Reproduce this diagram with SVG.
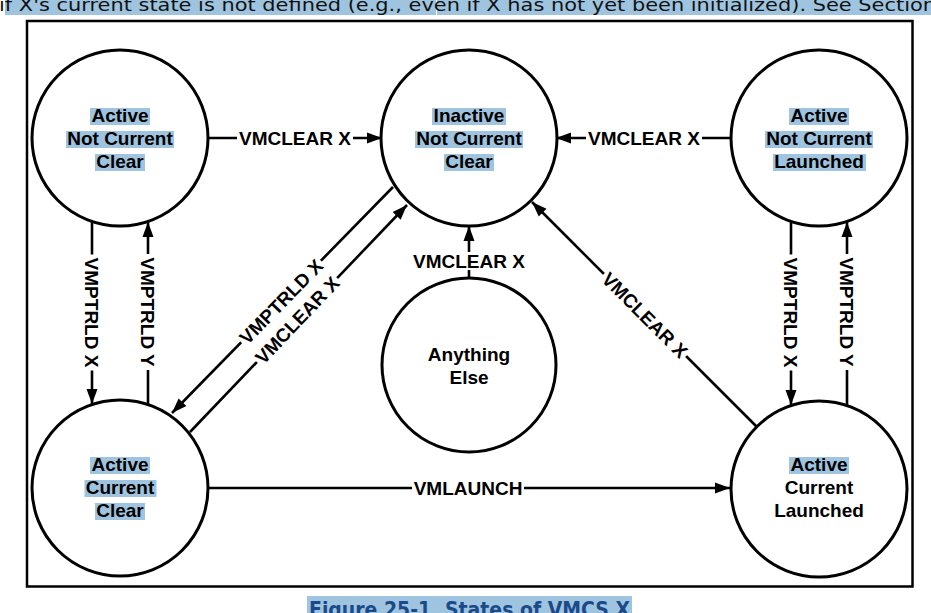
<svg xmlns="http://www.w3.org/2000/svg" width="931" height="613" viewBox="0 0 931 613">
<style>
.node circle{fill:#fff;stroke:#000;stroke-width:3}
.t{font-family:"Liberation Sans",Arial,sans-serif;font-weight:bold;font-size:19px;fill:#000;text-anchor:middle}
.hl{fill:#9fc4df}
.edge{stroke:#000;stroke-width:2.6;fill:none}
.arr{marker-end:url(#ah)}
.bg{fill:#fff}
</style>
<defs>
<marker id="ah" markerUnits="userSpaceOnUse" markerWidth="16" markerHeight="12" refX="15" refY="6" orient="auto">
<path d="M0,0.5 L15,6 L0,11.5 Z" fill="#000"/>
</marker>
</defs>
<rect width="931" height="613" fill="#fff"/>
<!-- page text above -->
<rect class="hl" x="5" y="0" width="926" height="15"/>
<rect x="436" y="0" width="1" height="15" fill="#fff"/>
<text x="-1" y="10.5" font-family="'DejaVu Sans',Verdana,sans-serif" font-size="18" fill="#111" textLength="937" lengthAdjust="spacingAndGlyphs">if X's current state is not defined (e.g., even if X has not yet been initialized). See Section</text>
<!-- frame -->
<rect x="27" y="21" width="885.5" height="565.5" fill="none" stroke="#000" stroke-width="2.5"/>

<g id="edges">
<!-- TL -> TM -->
<line class="edge arr" x1="208" y1="138" x2="382" y2="138"/>
<rect class="bg" x="237" y="129" width="116" height="19"/>
<text class="t" x="295" y="145">VMCLEAR X</text>
<!-- TR -> TM -->
<line class="edge arr" x1="731" y1="138" x2="556" y2="138"/>
<rect class="bg" x="586" y="129" width="116" height="19"/>
<text class="t" x="644" y="145">VMCLEAR X</text>
<!-- TL -> BL VMPTRLD X -->
<line class="edge arr" x1="92" y1="222" x2="92" y2="404"/>
<g transform="translate(92,312.5) rotate(90)">
<rect class="bg" x="-58" y="-9" width="116" height="18"/>
<text class="t" x="0" y="7">VMPTRLD X</text>
</g>
<!-- BL -> TL VMPTRLD Y -->
<line class="edge arr" x1="148" y1="404" x2="148" y2="222"/>
<g transform="translate(148,312) rotate(90)">
<rect class="bg" x="-58" y="-9" width="116" height="18"/>
<text class="t" x="0" y="7">VMPTRLD Y</text>
</g>
<!-- TR -> BR VMPTRLD X -->
<line class="edge arr" x1="791" y1="222" x2="791" y2="405"/>
<g transform="translate(791,312.5) rotate(90)">
<rect class="bg" x="-58" y="-9" width="116" height="18"/>
<text class="t" x="0" y="7">VMPTRLD X</text>
</g>
<!-- BR -> TR VMPTRLD Y -->
<line class="edge arr" x1="847" y1="405" x2="847" y2="222"/>
<g transform="translate(847,312) rotate(90)">
<rect class="bg" x="-58" y="-9" width="116" height="18"/>
<text class="t" x="0" y="7">VMPTRLD Y</text>
</g>
<!-- Anything -> TM -->
<line class="edge arr" x1="469" y1="278" x2="469" y2="226"/>
<rect class="bg" x="411" y="252" width="116" height="18"/>
<text class="t" x="469" y="268">VMCLEAR X</text>
<!-- BL -> BR VMLAUNCH -->
<line class="edge arr" x1="208" y1="488" x2="730" y2="488"/>
<rect class="bg" x="412" y="479" width="112" height="18"/>
<text class="t" x="468" y="495">VMLAUNCH</text>
<!-- TM -> BL VMPTRLD X -->
<line class="edge arr" x1="393" y1="187" x2="172" y2="413"/>
<g transform="translate(281,301.5) rotate(-45.6)">
<rect class="bg" x="-57" y="-8" width="114" height="16"/>
<text class="t" x="0" y="7">VMPTRLD X</text>
</g>
<!-- BL -> TM VMCLEAR X -->
<line class="edge arr" x1="190" y1="432" x2="407" y2="205"/>
<g transform="translate(297,320) rotate(-46.3)">
<rect class="bg" x="-58" y="-8" width="116" height="16"/>
<text class="t" x="0" y="7">VMCLEAR X</text>
</g>
<!-- BR -> TM VMCLEAR X -->
<line class="edge arr" x1="757" y1="427" x2="532" y2="202"/>
<g transform="translate(645,315) rotate(45)">
<rect class="bg" x="-58" y="-9" width="116" height="18"/>
<text class="t" x="0" y="7">VMCLEAR X</text>
</g>
</g>

<g id="node-tl" class="node">
<circle cx="120" cy="138" r="88"/>
<rect class="hl" x="90" y="108" width="60" height="17"/>
<rect class="hl" x="66" y="131" width="108" height="17"/>
<rect class="hl" x="95" y="154" width="50" height="17"/>
<text class="t" x="120" y="122">Active</text>
<text class="t" x="120" y="145">Not Current</text>
<text class="t" x="120" y="168">Clear</text>
</g>
<g id="node-tm" class="node">
<circle cx="469" cy="138" r="88"/>
<rect class="hl" x="432" y="108" width="74" height="17"/>
<rect class="hl" x="415" y="131" width="108" height="17"/>
<rect class="hl" x="444" y="154" width="50" height="17"/>
<text class="t" x="469" y="122">Inactive</text>
<text class="t" x="469" y="145">Not Current</text>
<text class="t" x="469" y="168">Clear</text>
</g>
<g id="node-tr" class="node">
<circle cx="819" cy="138" r="88"/>
<rect class="hl" x="789" y="108" width="60" height="17"/>
<rect class="hl" x="765" y="131" width="108" height="17"/>
<rect class="hl" x="773" y="154" width="93" height="17"/>
<text class="t" x="819" y="122">Active</text>
<text class="t" x="819" y="145">Not Current</text>
<text class="t" x="819" y="168">Launched</text>
</g>
<g id="node-anything" class="node">
<circle cx="469" cy="365" r="87"/>
<text class="t" x="469" y="361">Anything</text>
<text class="t" x="469" y="384">Else</text>
</g>
<g id="node-bl" class="node">
<circle cx="120" cy="488" r="88"/>
<rect class="hl" x="90" y="457" width="60" height="17"/>
<rect class="hl" x="84.5" y="480" width="72" height="17"/>
<rect class="hl" x="95" y="503" width="50" height="17"/>
<text class="t" x="120" y="471">Active</text>
<text class="t" x="120" y="494">Current</text>
<text class="t" x="120" y="517">Clear</text>
</g>
<g id="node-br" class="node">
<circle cx="819" cy="489" r="88"/>
<rect class="hl" x="789" y="457" width="60" height="17"/>
<text class="t" x="819" y="471">Active</text>
<text class="t" x="819" y="494">Current</text>
<text class="t" x="819" y="517">Launched</text>
</g>

<!-- caption -->
<rect class="hl" x="307" y="596" width="325" height="17"/>
<text x="309" y="617" font-family="'DejaVu Sans',sans-serif" font-weight="bold" font-size="22" fill="#1b4a8a" textLength="321" lengthAdjust="spacingAndGlyphs">Figure 25-1.  States of VMCS X</text>
</svg>
